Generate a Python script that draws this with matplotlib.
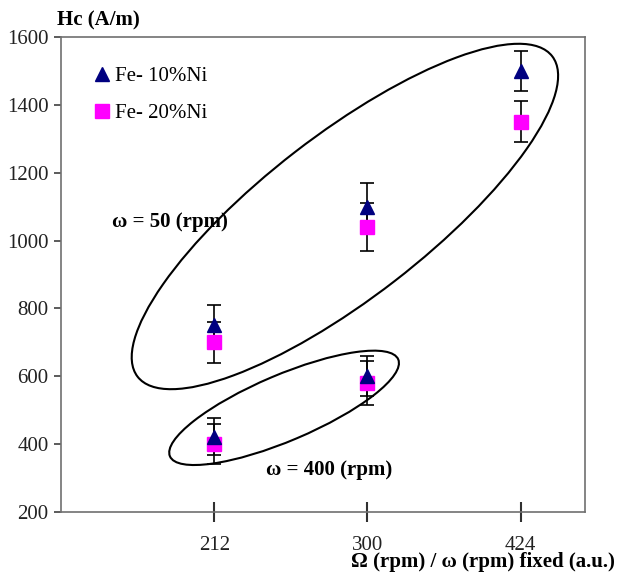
import numpy as np
import matplotlib
matplotlib.use("Agg")
import matplotlib.pyplot as plt
from matplotlib.patches import Ellipse
from matplotlib.transforms import ScaledTranslation

# Data
categories = ["212", "300", "424"]
w50_fe10 = [750, 1100, 1500]
w50_fe10_err = [60, 70, 60]
w50_fe20 = [700, 1040, 1350]
w50_fe20_err = [60, 70, 60]
w400_fe10 = [422, 602]
w400_fe10_err = [55, 59]
w400_fe20 = [400, 580]
w400_fe20_err = [58, 65]

plt.rcParams['font.family'] = ['Liberation Serif', 'DejaVu Serif']
plt.rcParams['font.size'] = 15

fig = plt.figure(figsize=(6.18, 5.76), dpi=100)
ax = fig.add_axes([61 / 618, 64 / 576, 524 / 618, 475 / 576])

x = np.arange(len(categories))
x_low = x[:len(w400_fe10)]
navy, magenta = '#000080', '#ff00ff'
bar_style = dict(fmt='none', ecolor='black', elinewidth=1.2, capsize=5,
                 capthick=1.2, zorder=2.5)

# error bars first, then squares, triangles on top (as in the original chart)
ax.errorbar(x, w50_fe10, yerr=w50_fe10_err, **bar_style)
ax.errorbar(x, w50_fe20, yerr=w50_fe20_err, **bar_style)
ax.errorbar(x_low, w400_fe10, yerr=w400_fe10_err, **bar_style)
ax.errorbar(x_low, w400_fe20, yerr=w400_fe20_err, **bar_style)

ax.plot(x, w50_fe10, ls='none', marker='^', color=navy, ms=10.5, zorder=4, label='Fe- 10%Ni')
ax.plot(x_low, w400_fe10, ls='none', marker='^', color=navy, ms=10.5, zorder=4)
ax.plot(x, w50_fe20, ls='none', marker='s', color=magenta, ms=10.5, zorder=3, label='Fe- 20%Ni')
ax.plot(x_low, w400_fe20, ls='none', marker='s', color=magenta, ms=10.5, zorder=3)

ax.set_xlim(-1.0, 2.42)
ax.set_ylim(200, 1600)
ax.set_yticks(np.arange(200, 1601, 200))
ax.set_xticks(x)
ax.set_xticklabels(categories)

for s in ax.spines.values():
    s.set_color('#707070')
    s.set_linewidth(1.2)
ax.tick_params(axis='y', direction='out', length=5, width=1.2, color='#404040',
               labelcolor='#222222', pad=4)
ax.tick_params(axis='x', direction='inout', length=14, width=1.5, color='#303030',
               labelcolor='#222222', pad=10)

# ellipses grouping the two omega series (size in inches, centre in data units)
for cx, cy, w, h, ang in [(0.853, 1071, 5.24, 1.63, 37.7), (0.456, 507, 2.48, 0.66, 23)]:
    tr = fig.dpi_scale_trans + ScaledTranslation(cx, cy, ax.transData)
    ax.add_patch(Ellipse((0, 0), w, h, angle=ang, transform=tr,
                         fill=False, edgecolor='black', lw=1.5, zorder=2))

ax.text(-0.67, 1055, 'ω = 50 (rpm)', fontweight='bold', va='center', ha='left')
ax.text(0.339, 324, 'ω = 400 (rpm)', fontweight='bold', va='center', ha='left')

ax.legend(loc='upper left', bbox_to_anchor=(0.058, 0.938), frameon=False,
          numpoints=1, handlelength=1.0, handletextpad=0.15, labelspacing=0.85,
          borderpad=0, borderaxespad=0)

fig.text(57 / 618, 1 - 20 / 576, 'Hc (A/m)', fontweight='bold', ha='left', va='center')
fig.text(615 / 618, 14 / 576, 'Ω (rpm) / ω (rpm) fixed (a.u.)', fontweight='bold',
         ha='right', va='center')

fig.savefig('out.png', dpi=100)
